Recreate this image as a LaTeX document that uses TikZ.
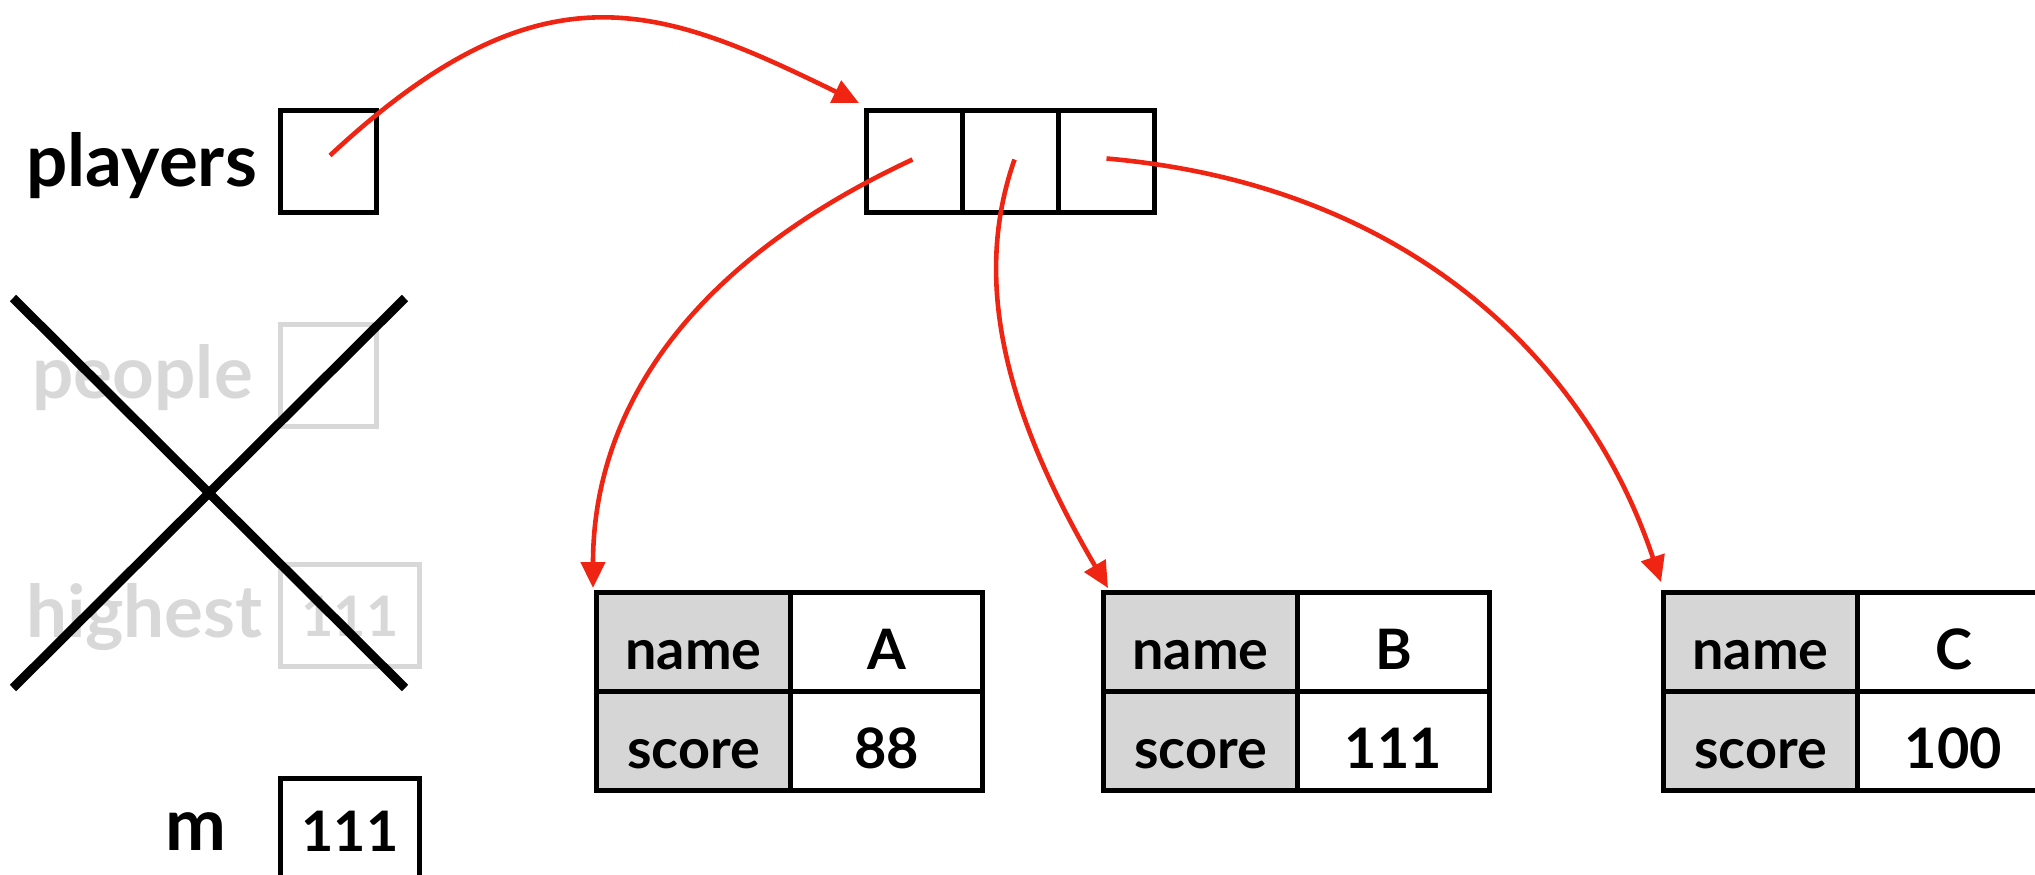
\documentclass[tikz,border=0pt]{standalone}
\usepackage{fontspec}
\setmainfont{Lato}
\usetikzlibrary{arrows.meta}
\definecolor{arrred}{RGB}{239,36,18}
\definecolor{keyfill}{RGB}{214,214,214}
\definecolor{ghost}{RGB}{216,216,216}
\tikzset{
  cell/.style={draw=black, line width=5bp, inner sep=0pt, anchor=north west,
    minimum width=96bp, minimum height=102bp},
  ghostcell/.style={cell, draw=ghost, text=ghost},
  lbl/.style={font=\fontsize{73}{86}\selectfont\bfseries, anchor=base east, inner sep=0pt},
  ghostlbl/.style={lbl, text=ghost},
  num/.style={font=\fontsize{56}{66}\selectfont\bfseries, text height=42bp, text depth=0pt},
  key/.style={draw=black, fill=keyfill, line width=5bp, inner sep=0pt, anchor=north west,
    minimum width=194bp, minimum height=99bp,
    font=\fontsize{56}{66}\selectfont\bfseries, text height=54bp, text depth=0pt},
  val/.style={key, fill=white, minimum width=192bp},
  ptr/.style={draw=arrred, line width=4.6bp, -{Triangle[length=26bp, width=24bp]}},
  cross/.style={draw=black, line width=9bp}
}
\begin{document}
\begin{tikzpicture}[x=1bp, y=1bp]
\useasboundingbox (0,0) rectangle (2035,-875);
% variables
\node[cell] (pl) at (278,-108) {};
\node[lbl] (plLab) at ([xshift=-21bp, yshift=-25bp]pl.west) {players};
\node[ghostcell] (pe) at (278,-322) {};
\node[ghostlbl] (peLab) at ([xshift=-25bp, yshift=-23bp]pe.west) {people};
\node[ghostcell, num, minimum width=139bp] (hi) at (278,-562) {111};
\node[ghostlbl] (hiLab) at ([xshift=-15bp, yshift=-22bp]hi.west) {highest};
\node[cell, num, minimum width=139bp, minimum height=104bp] (mb) at (278,-776) {111};
\node[lbl] (mLab) at ([xshift=-51bp, yshift=-20bp]mb.west) {m};
% crossing out
\draw[cross] (13,-298) -- (405,-688);
\draw[cross] (405,-298) -- (13,-688);
% array
\node[cell] (arr1) at (864,-108) {};
\node[cell] (arr2) at (960,-108) {};
\node[cell] (arr3) at (1056,-108) {};
% records
\node[key] (rAk1) at (594,-590) {name};
\node[val] (rAv1) at (788,-590) {A};
\node[key] (rAk2) at (594,-689) {score};
\node[val] (rAv2) at (788,-689) {88};
\node[key] (rBk1) at (1101,-590) {name};
\node[val] (rBv1) at (1295,-590) {B};
\node[key] (rBk2) at (1101,-689) {score};
\node[val] (rBv2) at (1295,-689) {111};
\node[key] (rCk1) at (1661,-590) {name};
\node[val] (rCv1) at (1855,-590) {C};
\node[key] (rCk2) at (1661,-689) {score};
\node[val] (rCv2) at (1855,-689) {100};
% pointers
\draw[ptr] ([shift={(1.5bp,6bp)}]pl.center) .. controls +(43:290) and +(154:221) .. ([shift={(-5bp,5bp)}]arr1.north west);
\draw[ptr] ([shift={(-2bp,2bp)}]arr1.center) .. controls +(205:269) and +(90:160) .. ([shift={(-1bp,2bp)}]rAk1.north west);
\draw[ptr] ([shift={(4bp,2bp)}]arr2.center) .. controls +(250.7:114) and +(120.4:226) .. ([shift={(7bp,2bp)}]rBk1.north west);
\draw[ptr] ([shift={(0bp,3bp)}]arr3.center) .. controls +(-5:313) and +(108.4:223) .. ([shift={(0bp,8bp)}]rCk1.north west);
\end{tikzpicture}
\end{document}
